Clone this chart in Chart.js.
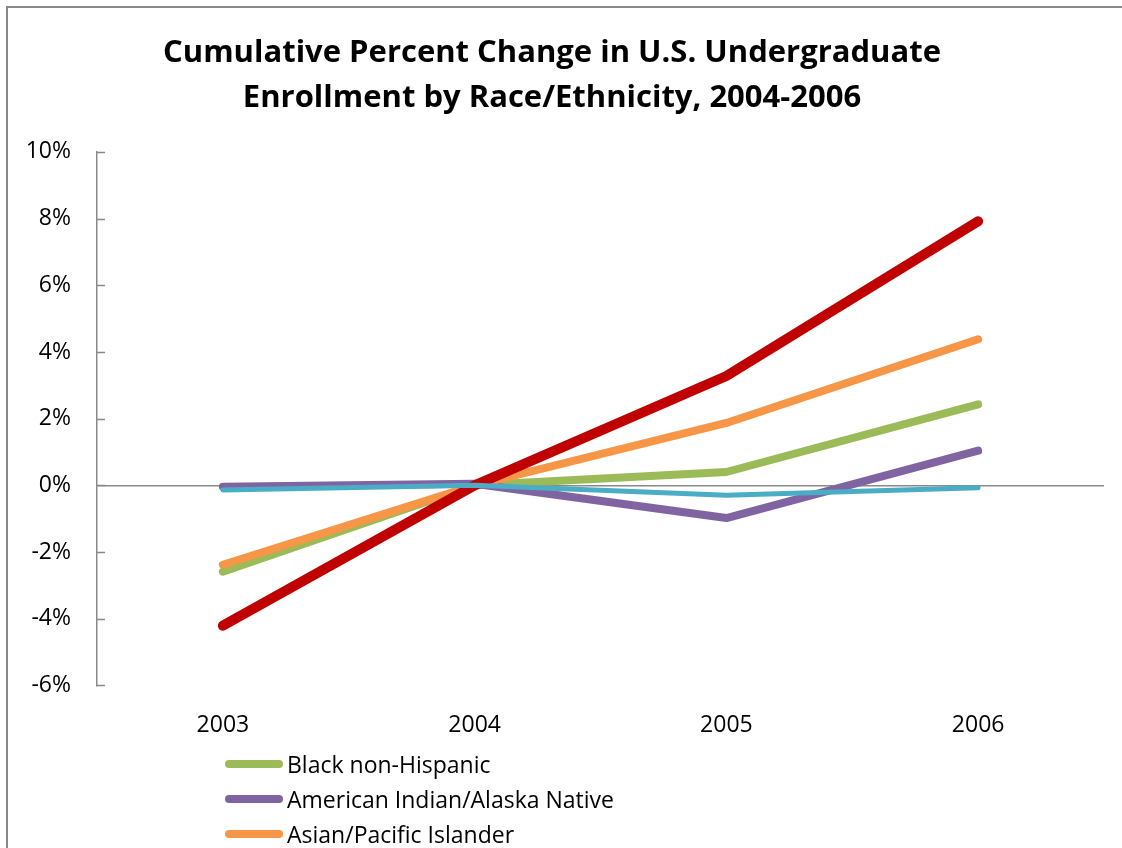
<!DOCTYPE html>
<html>
<head>
<meta charset="utf-8">
<script src="https://cdn.jsdelivr.net/npm/chart.js@4"></script>
<style>
  html, body { margin: 0; padding: 0; background: #fff; overflow: hidden; }
  #wrap { position: relative; width: 1122px; height: 848px; overflow: hidden; }
  #frame { position: absolute; left: 6px; top: 6px; right: -10px; bottom: -10px;
           border-left: 2px solid #898989; border-top: 2px solid #898989; }
  #myChart { position: absolute; left: 0; top: 0; }
  #legend { position: absolute; left: 225px; top: 746px; font-family: "Open Sans", Lato, sans-serif; font-size: 23px; color: #000; }
  .item { height: 35px; display: flex; align-items: center; }
  .swatch { width: 58px; height: 8px; border-radius: 4px; margin-right: 4px; }
</style>
</head>
<body>
<div id="wrap">
  <div id="frame"></div>
  <canvas id="myChart" width="1122" height="848"></canvas>
  <div id="legend"></div>
</div>
<script>
const years = ['2003', '2004', '2005', '2006'];
const seriesNames = ['Black non-Hispanic', 'American Indian/Alaska Native', 'Asian/Pacific Islander', 'Hispanic', 'White non-Hispanic'];
const black = [-2.59, 0, 0.40, 2.43];
const amerIndian = [-0.04, 0.05, -0.98, 1.04];
const asian = [-2.38, 0, 1.87, 4.38];
const hispanic = [-4.21, 0, 3.28, 7.92];
const white = [-0.14, 0, -0.30, -0.07];
const colors = ['#9BBB59', '#8064A2', '#F79646', '#C00000', '#4BACC6'];
const widths = [8, 8, 8, 10, 5];
const yTicks = [-6, -4, -2, 0, 2, 4, 6, 8, 10];

const values = [black, amerIndian, asian, hispanic, white];
const font = '"Open Sans", Lato, sans-serif';

// small tick marks on the inner side of the value axis
const innerTicks = {
  id: 'innerTicks',
  afterDraw(chart) {
    const y = chart.scales.y;
    const c = chart.ctx;
    c.save();
    c.strokeStyle = '#898989';
    c.lineWidth = 1.5;
    y.ticks.forEach((t) => {
      const py = Math.round(y.getPixelForValue(t.value)) + 0.5;
      c.beginPath();
      c.moveTo(y.right, py);
      c.lineTo(y.right + 8, py);
      c.stroke();
    });
    c.restore();
  }
};

const ctx = document.getElementById('myChart');

new Chart(ctx, {
  type: 'line',
  data: {
    labels: years,
    datasets: seriesNames.map((name, i) => ({
      label: name,
      data: values[i],
      borderColor: colors[i],
      backgroundColor: colors[i],
      borderWidth: widths[i],
      borderCapStyle: 'round',
      borderJoinStyle: 'round',
      pointRadius: 0,
      tension: 0,
      order: 5 - i
    }))
  },
  options: {
    responsive: false,
    animation: false,
    layout: { padding: { left: 0, right: 18, top: 0, bottom: 83 } },
    plugins: {
      legend: { display: false },
      tooltip: { enabled: false },
      title: {
        display: true,
        text: ['Cumulative Percent Change in U.S. Undergraduate', 'Enrollment by Race/Ethnicity, 2004-2006'],
        color: '#000',
        font: { family: font, size: 31, weight: 'bold', lineHeight: 1.45 },
        padding: { top: 31, bottom: 31 }
      }
    },
    scales: {
      x: {
        offset: true,
        grid: { display: false, drawTicks: false },
        border: { display: false },
        ticks: { color: '#000', padding: 26, font: { family: font, size: 23 } }
      },
      y: {
        min: -6,
        max: 10,
        afterFit(scale) { scale.width = 97; },
        afterBuildTicks(scale) { scale.ticks = yTicks.map((v) => ({ value: v })); },
        grid: {
          drawTicks: false,
          lineWidth: 1.5,
          color: (c) => (c.tick && c.tick.value === 0 ? '#898989' : 'rgba(0,0,0,0)')
        },
        border: { display: true, color: '#898989', width: 1.5 },
        ticks: {
          color: '#000',
          padding: 26,
          font: { family: font, size: 23 },
          callback: (v) => v + '%'
        }
      }
    }
  },
  plugins: [innerTicks]
});

const legend = document.getElementById('legend');
seriesNames.forEach((name, i) => {
  const row = document.createElement('div');
  row.className = 'item';
  const sw = document.createElement('span');
  sw.className = 'swatch';
  sw.style.background = colors[i];
  const txt = document.createElement('span');
  txt.textContent = name;
  row.appendChild(sw);
  row.appendChild(txt);
  legend.appendChild(row);
});
</script>
</body>
</html>
